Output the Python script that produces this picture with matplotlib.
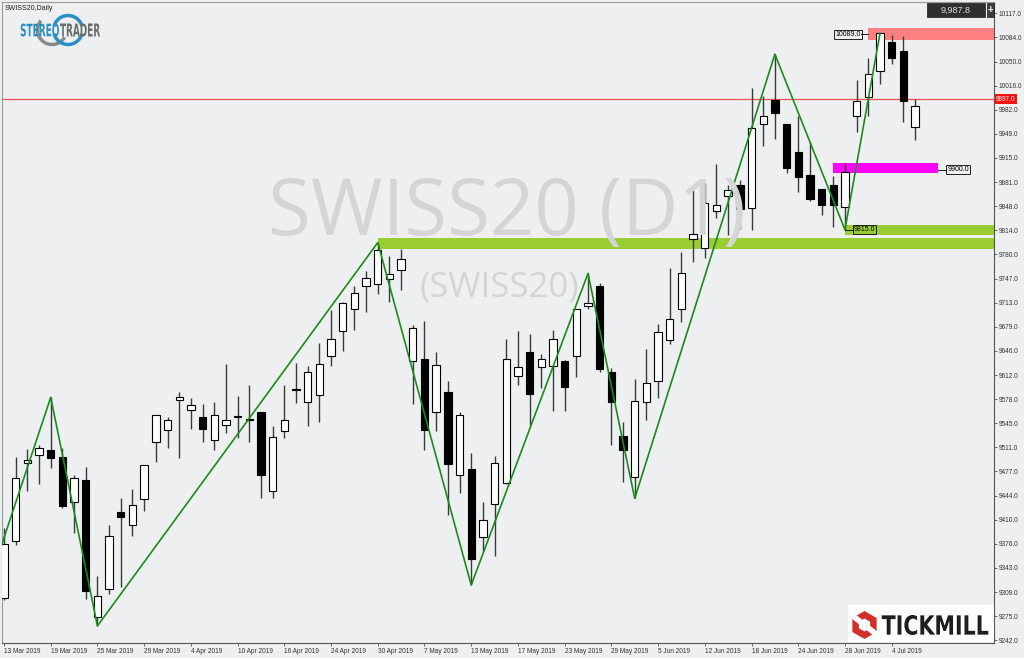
import matplotlib
matplotlib.use('Agg')
import matplotlib.pyplot as plt
from matplotlib.patches import Rectangle, PathPatch, Arc, RegularPolygon, Polygon
from matplotlib.textpath import TextPath
from matplotlib.font_manager import FontProperties
from matplotlib.transforms import Affine2D, IdentityTransform

W, H = 1024, 658

# daily OHLC, 13 Mar 2019 .. 8 Jul 2019
opens = [9301, 9380, 9489, 9500, 9507, 9498, 9435, 9465, 9275, 9313,
         9421, 9403, 9439, 9519, 9536, 9578, 9563, 9553, 9521, 9542,
         9553.5, 9550.5, 9560, 9451, 9534, 9593, 9574, 9584, 9639, 9674,
         9705, 9736, 9739, 9746, 9759, 9632, 9635, 9560, 9589, 9472,
         9481, 9386, 9432, 9462, 9611, 9645, 9623, 9625, 9632, 9639,
         9709, 9736, 9617, 9527, 9470, 9574, 9604, 9661, 9705, 9802,
         9789, 9841, 9862, 9878, 9845, 9963, 9996, 9962, 9923, 9892,
         9872, 9877, 9847, 9974, 10000, 10037, 10077, 10064, 9958]
highs = [9398, 9498, 9509, 9514, 9581, 9510, 9473, 9484, 9332, 9403,
         9440, 9453, 9487, 9557, 9553, 9588, 9580, 9572, 9574, 9628,
         9583, 9598, 9560, 9541, 9598, 9629, 9625, 9657, 9703, 9714,
         9736, 9757, 9797, 9778, 9788, 9682, 9687, 9644, 9604, 9560,
         9504, 9435, 9499, 9663, 9673, 9669, 9641, 9675, 9633, 9705,
         9754, 9740, 9622, 9546, 9606, 9649, 9684, 9761, 9784, 9870,
         9880, 9907, 9877, 9885, 10013, 10001, 10060, 9962, 9973, 9938,
         9872, 9890, 9908, 10024, 10054, 10089, 10087, 10086, 9997]
lows = [9298, 9375, 9450, 9460, 9482, 9427, 9392, 9300, 9262, 9306,
        9317, 9387, 9423, 9491, 9510, 9496, 9537, 9519, 9507, 9531,
        9524, 9519, 9441, 9440, 9524, 9573, 9541, 9546, 9625, 9646,
        9675, 9700, 9725, 9714, 9731, 9572, 9508, 9534, 9417, 9448,
        9319, 9366, 9359, 9460, 9598, 9542, 9594, 9562, 9562, 9610,
        9705, 9617, 9514, 9463, 9440, 9550, 9580, 9656, 9686, 9770,
        9775, 9831, 9808, 9816, 9815, 9932, 9941, 9894, 9868, 9855,
        9836, 9819, 9815, 9951, 9974, 10019, 10046, 9966, 9940]
closes = [9376, 9468, 9493, 9510, 9496, 9430, 9468, 9311, 9304, 9387,
          9414, 9431, 9486, 9557, 9550, 9582, 9571, 9537, 9556, 9550,
          9554.5, 9549.5, 9473, 9525, 9549, 9591.5, 9616, 9627, 9663, 9713,
          9726, 9747, 9786, 9753, 9774, 9678, 9535, 9626, 9488, 9557,
          9355, 9410, 9489, 9635, 9623, 9585, 9635, 9662, 9596, 9704,
          9712, 9621, 9575, 9507, 9576, 9601, 9672, 9690, 9754, 9809,
          9852, 9850, 9870, 9844, 9957, 9973, 9978, 9901, 9888, 9858,
          9849, 9850, 9895, 9995, 10032, 10089, 10054, 9995, 9988]

date_labels = ['13 Mar 2019', '19 Mar 2019', '25 Mar 2019', '29 Mar 2019',
               '4 Apr 2019', '10 Apr 2019', '16 Apr 2019', '24 Apr 2019',
               '30 Apr 2019', '7 May 2019', '13 May 2019', '17 May 2019',
               '23 May 2019', '29 May 2019', '5 Jun 2019', '12 Jun 2019',
               '18 Jun 2019', '24 Jun 2019', '28 Jun 2019', '4 Jul 2019']
price_labels = ['9242.0', '9275.0', '9309.0', '9343.0', '9376.0', '9410.0',
                '9444.0', '9477.0', '9511.0', '9545.0', '9578.0', '9612.0',
                '9646.0', '9679.0', '9713.0', '9747.0', '9780.0', '9814.0',
                '9848.0', '9881.0', '9915.0', '9949.0', '9982.0', '10016.0',
                '10050.0', '10084.0', '10117.0']

# zigzag swing points (bar index, price)
zz_bars = [-1, 4, 8, 32, 40, 50, 54, 66, 72, 75]
zz_prices = [9336, 9581, 9262, 9797, 9319, 9754, 9440, 10060, 9815, 10089]

# zones: (start bar, end bar or None = to the right edge, low, high, colour)
zones = [
    (32, None, 9788, 9803, '#9acd32'),
    (72, None, 9807, 9821.5, '#9acd32'),
    (71, 80, 9894.5, 9907.5, '#ff00ff'),
    (74, None, 10080, 10097, '#ff8080'),
]
level_line = 9997.0
last_price = '9,987.8'

BG = '#eeeff1'
FONT = 'Liberation Sans'

fig = plt.figure(figsize=(W / 100, H / 100), dpi=100, facecolor=BG)
# plot area in pixels: x 1.7..994, y 1.7..642.7
ax = fig.add_axes([1.7 / W, 1 - 642.7 / H, (994 - 1.7) / W, (642.7 - 1.7) / H])
ax.set_facecolor(BG)
step = 11.68
xmin, xmax = -(4 - 1.7) / step, (994 - 4) / step
ax.set_xlim(xmin, xmax)
ax.set_ylim(9238.6, 10133.2)

n = len(opens)
idx = list(range(n))

# watermark
fig.text(268 / W, 1 - 235 / H, 'SWISS20 (D1)', fontsize=56, color='#d4d5d6',
         family='Open Sans', ha='left', va='baseline', zorder=1.5)
fig.text(420 / W, 1 - 297 / H, '(SWISS20)', fontsize=25, color='#d4d5d6',
         family='Open Sans', ha='left', va='baseline', zorder=1.5)

# zones
for start, end, lo, hi, col in zones:
    x1 = xmax if end is None else end
    ax.add_patch(Rectangle((start, lo), x1 - start, hi - lo, facecolor=col,
                           edgecolor='none', zorder=1))

ax.axhline(level_line, color='#f05050', lw=0.9, zorder=1.2)

# candles
ax.vlines(idx, lows, highs, color='#3a3a3a', lw=1.0, zorder=2)
for i in idx:
    o, c = opens[i], closes[i]
    bottom = min(o, c)
    height = max(abs(c - o), 1.2)
    fc = 'white' if c >= o else 'black'
    ax.bar(i, height, bottom=bottom, width=0.63, color=fc, edgecolor='black',
           linewidth=0.8, zorder=3)

ax.plot(zz_bars, zz_prices, color='#1a8c1a', lw=1.2, zorder=4)

# price labels on the zones
lab_kw = dict(fontsize=5, family=FONT, color='black', va='center', zorder=5,
              bbox=dict(boxstyle='square,pad=0.15', fc='none', ec='black', lw=0.6))
ax.text(73.35, 10088, '10089.0', ha='right', **lab_kw)
ax.plot([73.4, 74], [10088, 10088], color='black', lw=0.6, zorder=5)
ax.text(80.75, 9899, '9900.0', ha='left', **lab_kw)
ax.plot([80, 80.65], [9899, 9899], color='black', lw=0.6, zorder=5)
ax.text(72.75, 9815, '9815.0', ha='left', **lab_kw)
ax.plot([72, 72.65], [9815, 9815], color='black', lw=0.6, zorder=5)

# axes styling
for side in ['left', 'top']:
    ax.spines[side].set_color('#9a9a9a')
    ax.spines[side].set_linewidth(0.8)
for side in ['right', 'bottom']:
    ax.spines[side].set_color('#555555')
    ax.spines[side].set_linewidth(0.8)

ax.yaxis.tick_right()
ax.set_yticks([9242 + k * (10117 - 9242) / 26 for k in range(27)])
ax.set_yticklabels(price_labels)
ax.set_xticks(list(range(0, 4 * len(date_labels), 4)))
ax.set_xticklabels(date_labels, ha='left')
ax.tick_params(axis='both', direction='out', length=2.5, width=0.6,
               color='#555555', labelsize=4.7, labelcolor='#333333', pad=1)
for lab in ax.get_xticklabels() + ax.get_yticklabels():
    lab.set_family(FONT)

# current level tag on the price axis
ax.text(1.002, level_line, '9997.0', transform=ax.get_yaxis_transform(),
        fontsize=4.7, family=FONT, color='white', va='center', ha='left',
        clip_on=False, zorder=6,
        bbox=dict(boxstyle='square,pad=0.2', fc='#ff1010', ec='none'))


def px_rect(x0, y0, x1, y1, **kw):
    r = Rectangle((x0, H - y1), x1 - x0, y1 - y0, transform=IdentityTransform(), **kw)
    fig.add_artist(r)
    return r


def fitted_text(s, x0, y0, x1, y1, color, weight='bold', family='DejaVu Sans'):
    tp = TextPath((0, 0), s, size=1, prop=FontProperties(family=family, weight=weight))
    ext = tp.get_extents()
    tr = (Affine2D().translate(-ext.x0, -ext.y0)
          .scale((x1 - x0) / ext.width, (y1 - y0) / ext.height)
          .translate(x0, H - y1))
    fig.add_artist(PathPatch(tp, transform=tr, facecolor=color, edgecolor='none', zorder=10))


# top-left caption and logo
fig.text(5 / W, 1 - 8 / H, 'SWISS20,Daily', fontsize=5, family=FONT,
         color='#222222', va='center', ha='left')
fig.add_artist(Arc((52, H - 30), 29, 29, theta1=140, theta2=330,
                   transform=IdentityTransform(), color='#8a8a8a', lw=2.5))
fig.add_artist(Arc((68, H - 30), 29, 29, theta1=15, theta2=165,
                   transform=IdentityTransform(), color='#2b8ec4', lw=2.5))
fig.add_artist(Arc((68, H - 30), 29, 29, theta1=195, theta2=345,
                   transform=IdentityTransform(), color='#2b8ec4', lw=2.5))
fitted_text('STEREO', 20.7, 23.5, 59, 36.5, '#2b8ec4')
fitted_text('TRADER', 60, 23.5, 100, 36.5, '#6b6b6b')

# last price box, top right
px_rect(927.3, 2.7, 985.3, 17.3, facecolor='#2f2f2f', edgecolor='#1a1a1a', lw=0.5)
fig.text(956 / W, 1 - 10 / H, last_price, fontsize=6.5, family=FONT,
         color='#dddddd', ha='center', va='center')
px_rect(986.7, 2.7, 994, 17.3, facecolor='#3c3c3c', edgecolor='#1a1a1a', lw=0.5)
fig.text(990.3 / W, 1 - 10 / H, '+', fontsize=7, family=FONT, weight='bold',
         color='white', ha='center', va='center')

# broker logo, bottom right
px_rect(847.7, 605, 993.5, 642, facecolor='white', edgecolor='none')
fig.add_artist(RegularPolygon((864.5, H - 625), numVertices=6, radius=14,
                              orientation=0, transform=IdentityTransform(),
                              facecolor='#d32f2a', edgecolor='none', zorder=10))
fig.add_artist(RegularPolygon((864.5, H - 625), numVertices=6, radius=6.5,
                              orientation=0, transform=IdentityTransform(),
                              facecolor='white', edgecolor='none', zorder=11))
fig.add_artist(Polygon([(851, H - 618), (855, H - 614), (878, H - 632), (874, H - 636)],
                       closed=True, transform=IdentityTransform(),
                       facecolor='white', edgecolor='none', zorder=11))
fitted_text('TICKMILL', 881.7, 615, 988.3, 635, '#1e1e1e')

fig.savefig('out.png', dpi=100, facecolor=BG)
